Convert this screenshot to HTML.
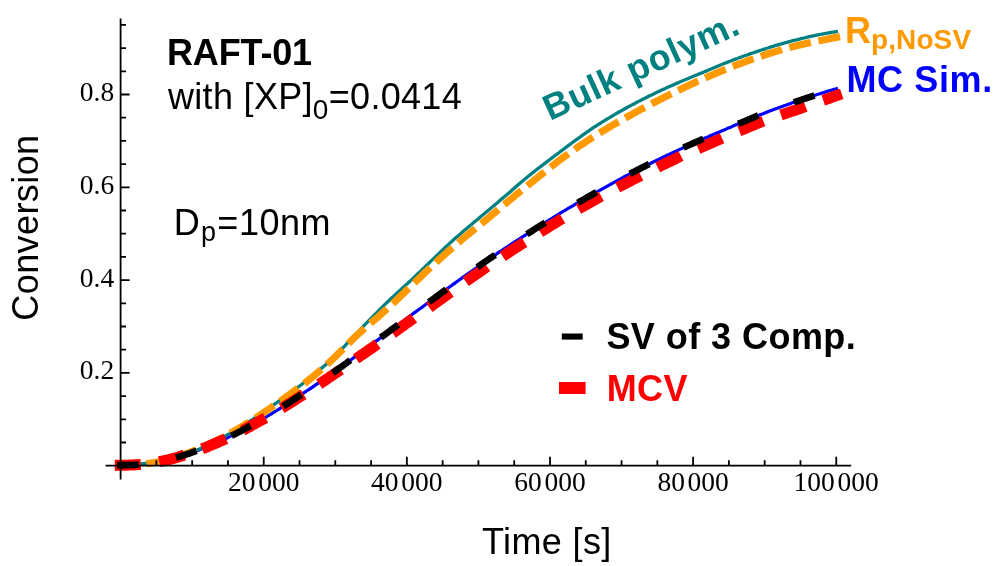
<!DOCTYPE html>
<html lang="en">
<head>
<meta charset="utf-8">
<title>RAFT-01 conversion vs. time</title>
<style>
html,body{margin:0;padding:0;background:#fff;}
body{width:1000px;height:566px;overflow:hidden;}
svg{display:block;will-change:transform;}
</style>
</head>
<body>
<svg width="1000" height="566" viewBox="0 0 1000 566">
<rect width="1000" height="566" fill="#fff"/>
<path d="M120.3,465.2 L122.1,465.2 L123.9,465.2 L125.7,465.2 L127.5,465.2 L129.3,465.1 L131.1,465.0 L132.9,464.9 L134.7,464.8 L136.5,464.7 L138.3,464.6 L140.1,464.4 L141.9,464.2 L143.7,464.0 L145.5,463.8 L147.3,463.6 L149.1,463.4 L150.9,463.1 L152.7,462.8 L154.5,462.5 L156.3,462.2 L158.1,461.9 L159.9,461.5 L161.7,461.2 L163.5,460.8 L165.3,460.4 L167.1,459.9 L168.9,459.5 L170.7,459.0 L172.5,458.6 L174.3,458.1 L176.1,457.6 L177.9,457.1 L179.7,456.5 L181.5,456.0 L183.3,455.4 L185.1,454.8 L186.9,454.2 L188.7,453.6 L190.5,453.0 L192.2,452.4 L194.0,451.7 L195.8,451.1 L197.6,450.4 L199.4,449.7 L201.2,449.0 L203.0,448.3 L204.8,447.6 L206.6,446.9 L208.4,446.1 L210.2,445.4 L212.0,444.6 L213.8,443.9 L215.6,443.1 L217.4,442.3 L219.2,441.5 L221.0,440.7 L222.8,439.8 L224.6,439.0 L226.4,438.2 L228.2,437.3 L230.0,436.4 L231.8,435.6 L233.6,434.7 L235.4,433.8 L237.2,432.9 L239.0,432.0 L240.8,431.0 L242.6,430.1 L244.4,429.2 L246.2,428.2 L248.0,427.2 L249.8,426.3 L251.6,425.3 L253.4,424.3 L255.2,423.3 L257.0,422.3 L258.8,421.3 L260.6,420.2 L262.4,419.2 L264.2,418.1 L266.0,417.1 L267.8,416.0 L269.6,414.9 L271.4,413.8 L273.2,412.7 L275.0,411.6 L276.8,410.5 L278.6,409.3 L280.4,408.2 L282.2,407.0 L284.0,405.9 L285.8,404.7 L287.6,403.6 L289.4,402.4 L291.2,401.2 L293.0,400.1 L294.8,398.9 L296.6,397.7 L298.4,396.5 L300.2,395.3 L302.0,394.1 L303.8,392.9 L305.6,391.7 L307.4,390.5 L309.2,389.3 L311.0,388.1 L312.8,386.9 L314.6,385.6 L316.4,384.4 L318.2,383.2 L320.0,381.9 L321.8,380.7 L323.6,379.4 L325.4,378.2 L327.2,376.9 L329.0,375.6 L330.8,374.3 L332.6,373.1 L334.4,371.8 L336.1,370.5 L337.9,369.2 L339.7,367.9 L341.5,366.6 L343.3,365.3 L345.1,364.0 L346.9,362.7 L348.7,361.4 L350.5,360.1 L352.3,358.8 L354.1,357.4 L355.9,356.1 L357.7,354.8 L359.5,353.5 L361.3,352.1 L363.1,350.8 L364.9,349.5 L366.7,348.1 L368.5,346.8 L370.3,345.5 L372.1,344.1 L373.9,342.8 L375.7,341.4 L377.5,340.1 L379.3,338.7 L381.1,337.4 L382.9,336.0 L384.7,334.7 L386.5,333.3 L388.3,332.0 L390.1,330.7 L391.9,329.3 L393.7,328.0 L395.5,326.7 L397.3,325.3 L399.1,324.0 L400.9,322.7 L402.7,321.4 L404.5,320.0 L406.3,318.7 L408.1,317.4 L409.9,316.1 L411.7,314.8 L413.5,313.4 L415.3,312.1 L417.1,310.8 L418.9,309.5 L420.7,308.2 L422.5,306.9 L424.3,305.5 L426.1,304.2 L427.9,302.9 L429.7,301.6 L431.5,300.3 L433.3,298.9 L435.1,297.6 L436.9,296.3 L438.7,295.0 L440.5,293.6 L442.3,292.3 L444.1,291.0 L445.9,289.7 L447.7,288.3 L449.5,287.0 L451.3,285.7 L453.1,284.4 L454.9,283.1 L456.7,281.8 L458.5,280.5 L460.3,279.2 L462.1,277.9 L463.9,276.6 L465.7,275.4 L467.5,274.1 L469.3,272.8 L471.1,271.5 L472.9,270.3 L474.7,269.0 L476.5,267.7 L478.3,266.5 L480.0,265.2 L481.8,264.0 L483.6,262.7 L485.4,261.5 L487.2,260.3 L489.0,259.0 L490.8,257.8 L492.6,256.6 L494.4,255.4 L496.2,254.2 L498.0,252.9 L499.8,251.7 L501.6,250.5 L503.4,249.3 L505.2,248.1 L507.0,247.0 L508.8,245.8 L510.6,244.6 L512.4,243.4 L514.2,242.2 L516.0,241.1 L517.8,239.9 L519.6,238.8 L521.4,237.6 L523.2,236.4 L525.0,235.3 L526.8,234.2 L528.6,233.0 L530.4,231.9 L532.2,230.8 L534.0,229.6 L535.8,228.5 L537.6,227.3 L539.4,226.2 L541.2,225.1 L543.0,223.9 L544.8,222.8 L546.6,221.7 L548.4,220.5 L550.2,219.4 L552.0,218.3 L553.8,217.2 L555.6,216.0 L557.4,214.9 L559.2,213.8 L561.0,212.7 L562.8,211.6 L564.6,210.6 L566.4,209.5 L568.2,208.4 L570.0,207.4 L571.8,206.3 L573.6,205.3 L575.4,204.2 L577.2,203.2 L579.0,202.1 L580.8,201.1 L582.6,200.1 L584.4,199.0 L586.2,198.0 L588.0,197.0 L589.8,196.0 L591.6,194.9 L593.4,193.9 L595.2,192.9 L597.0,191.9 L598.8,190.9 L600.6,189.9 L602.4,188.9 L604.2,187.9 L606.0,186.9 L607.8,185.9 L609.6,184.9 L611.4,183.9 L613.2,182.9 L615.0,181.9 L616.8,180.9 L618.6,179.9 L620.4,178.9 L622.2,178.0 L623.9,177.0 L625.7,176.0 L627.5,175.1 L629.3,174.2 L631.1,173.2 L632.9,172.3 L634.7,171.4 L636.5,170.4 L638.3,169.5 L640.1,168.6 L641.9,167.7 L643.7,166.8 L645.5,165.9 L647.3,165.0 L649.1,164.1 L650.9,163.2 L652.7,162.3 L654.5,161.4 L656.3,160.5 L658.1,159.6 L659.9,158.8 L661.7,157.9 L663.5,157.0 L665.3,156.2 L667.1,155.3 L668.9,154.5 L670.7,153.6 L672.5,152.8 L674.3,151.9 L676.1,151.1 L677.9,150.2 L679.7,149.4 L681.5,148.6 L683.3,147.7 L685.1,146.9 L686.9,146.1 L688.7,145.3 L690.5,144.5 L692.3,143.7 L694.1,142.9 L695.9,142.1 L697.7,141.3 L699.5,140.5 L701.3,139.7 L703.1,138.9 L704.9,138.1 L706.7,137.4 L708.5,136.6 L710.3,135.8 L712.1,135.0 L713.9,134.3 L715.7,133.5 L717.5,132.7 L719.3,132.0 L721.1,131.2 L722.9,130.4 L724.7,129.7 L726.5,128.9 L728.3,128.1 L730.1,127.4 L731.9,126.6 L733.7,125.8 L735.5,125.0 L737.3,124.3 L739.1,123.5 L740.9,122.7 L742.7,122.0 L744.5,121.2 L746.3,120.5 L748.1,119.7 L749.9,119.0 L751.7,118.2 L753.5,117.5 L755.3,116.7 L757.1,116.0 L758.9,115.3 L760.7,114.6 L762.5,113.9 L764.3,113.2 L766.1,112.5 L767.8,111.8 L769.6,111.1 L771.4,110.4 L773.2,109.7 L775.0,109.1 L776.8,108.4 L778.6,107.7 L780.4,107.1 L782.2,106.4 L784.0,105.8 L785.8,105.2 L787.6,104.5 L789.4,103.9 L791.2,103.3 L793.0,102.6 L794.8,102.0 L796.6,101.4 L798.4,100.8 L800.2,100.2 L802.0,99.6 L803.8,99.0 L805.6,98.4 L807.4,97.8 L809.2,97.2 L811.0,96.6 L812.8,96.0 L814.6,95.4 L816.4,94.8 L818.2,94.3 L820.0,93.7 L821.8,93.1 L823.6,92.6 L825.4,92.0 L827.2,91.4 L829.0,90.9 L830.8,90.4 L832.6,89.8 L834.4,89.3 L836.2,88.8 L838.0,88.2" fill="none" stroke="#0000ff" stroke-width="3.2"/>
<path d="M120.3,465.2 L122.1,465.2 L123.9,465.2 L125.7,465.1 L127.5,465.0 L129.3,464.9 L131.1,464.8 L132.9,464.7 L134.7,464.5 L136.5,464.4 L138.3,464.2 L140.1,464.0 L141.9,463.8 L143.7,463.6 L145.5,463.4 L147.3,463.2 L149.1,463.0 L150.9,462.7 L152.7,462.4 L154.5,462.1 L156.3,461.8 L158.1,461.5 L159.9,461.1 L161.7,460.8 L163.5,460.4 L165.3,460.0 L167.1,459.6 L168.9,459.2 L170.7,458.7 L172.5,458.3 L174.3,457.8 L176.1,457.3 L177.9,456.8 L179.7,456.2 L181.5,455.7 L183.3,455.1 L185.1,454.5 L186.9,453.9 L188.7,453.2 L190.5,452.6 L192.2,451.9 L194.0,451.2 L195.8,450.5 L197.6,449.7 L199.4,449.0 L201.2,448.2 L203.0,447.4 L204.8,446.6 L206.6,445.7 L208.4,444.9 L210.2,444.0 L212.0,443.1 L213.8,442.2 L215.6,441.3 L217.4,440.4 L219.2,439.4 L221.0,438.4 L222.8,437.5 L224.6,436.5 L226.4,435.5 L228.2,434.4 L230.0,433.4 L231.8,432.3 L233.6,431.3 L235.4,430.2 L237.2,429.1 L239.0,428.0 L240.8,426.9 L242.6,425.8 L244.4,424.6 L246.2,423.5 L248.0,422.3 L249.8,421.2 L251.6,420.0 L253.4,418.8 L255.2,417.6 L257.0,416.4 L258.8,415.2 L260.6,414.0 L262.4,412.7 L264.2,411.5 L266.0,410.3 L267.8,409.0 L269.6,407.7 L271.4,406.5 L273.2,405.2 L275.0,403.9 L276.8,402.6 L278.6,401.3 L280.4,400.0 L282.2,398.7 L284.0,397.4 L285.8,396.1 L287.6,394.8 L289.4,393.5 L291.2,392.2 L293.0,390.9 L294.8,389.6 L296.6,388.2 L298.4,386.9 L300.2,385.5 L302.0,384.2 L303.8,382.8 L305.6,381.4 L307.4,380.0 L309.2,378.6 L311.0,377.1 L312.8,375.7 L314.6,374.2 L316.4,372.7 L318.2,371.2 L320.0,369.7 L321.8,368.1 L323.6,366.5 L325.4,364.9 L327.2,363.3 L329.0,361.6 L330.8,360.0 L332.6,358.3 L334.4,356.5 L336.1,354.8 L337.9,353.0 L339.7,351.1 L341.5,349.3 L343.3,347.5 L345.1,345.6 L346.9,343.7 L348.7,341.8 L350.5,339.9 L352.3,338.0 L354.1,336.1 L355.9,334.2 L357.7,332.3 L359.5,330.4 L361.3,328.5 L363.1,326.6 L364.9,324.7 L366.7,322.8 L368.5,321.0 L370.3,319.1 L372.1,317.3 L373.9,315.5 L375.7,313.6 L377.5,311.8 L379.3,310.0 L381.1,308.2 L382.9,306.5 L384.7,304.7 L386.5,302.9 L388.3,301.2 L390.1,299.5 L391.9,297.8 L393.7,296.1 L395.5,294.4 L397.3,292.8 L399.1,291.1 L400.9,289.5 L402.7,287.8 L404.5,286.2 L406.3,284.6 L408.1,283.0 L409.9,281.3 L411.7,279.7 L413.5,278.0 L415.3,276.3 L417.1,274.5 L418.9,272.8 L420.7,271.1 L422.5,269.3 L424.3,267.6 L426.1,265.8 L427.9,264.1 L429.7,262.3 L431.5,260.6 L433.3,258.9 L435.1,257.1 L436.9,255.4 L438.7,253.7 L440.5,251.9 L442.3,250.2 L444.1,248.5 L445.9,246.8 L447.7,245.2 L449.5,243.5 L451.3,241.9 L453.1,240.2 L454.9,238.6 L456.7,237.0 L458.5,235.4 L460.3,233.9 L462.1,232.3 L463.9,230.8 L465.7,229.2 L467.5,227.7 L469.3,226.2 L471.1,224.7 L472.9,223.2 L474.7,221.6 L476.5,220.2 L478.3,218.7 L480.0,217.2 L481.8,215.7 L483.6,214.2 L485.4,212.7 L487.2,211.2 L489.0,209.7 L490.8,208.2 L492.6,206.7 L494.4,205.2 L496.2,203.7 L498.0,202.2 L499.8,200.6 L501.6,199.1 L503.4,197.6 L505.2,196.0 L507.0,194.5 L508.8,192.9 L510.6,191.4 L512.4,189.8 L514.2,188.2 L516.0,186.7 L517.8,185.1 L519.6,183.6 L521.4,182.1 L523.2,180.5 L525.0,179.0 L526.8,177.5 L528.6,176.0 L530.4,174.6 L532.2,173.1 L534.0,171.7 L535.8,170.3 L537.6,168.9 L539.4,167.5 L541.2,166.1 L543.0,164.8 L544.8,163.4 L546.6,162.0 L548.4,160.6 L550.2,159.3 L552.0,157.9 L553.8,156.5 L555.6,155.2 L557.4,153.8 L559.2,152.5 L561.0,151.1 L562.8,149.7 L564.6,148.4 L566.4,147.0 L568.2,145.7 L570.0,144.4 L571.8,143.0 L573.6,141.7 L575.4,140.4 L577.2,139.1 L579.0,137.8 L580.8,136.5 L582.6,135.2 L584.4,133.9 L586.2,132.7 L588.0,131.4 L589.8,130.2 L591.6,128.9 L593.4,127.7 L595.2,126.5 L597.0,125.4 L598.8,124.2 L600.6,123.1 L602.4,121.9 L604.2,120.8 L606.0,119.7 L607.8,118.6 L609.6,117.6 L611.4,116.5 L613.2,115.4 L615.0,114.4 L616.8,113.3 L618.6,112.3 L620.4,111.3 L622.2,110.3 L623.9,109.3 L625.7,108.3 L627.5,107.3 L629.3,106.3 L631.1,105.4 L632.9,104.4 L634.7,103.5 L636.5,102.5 L638.3,101.6 L640.1,100.7 L641.9,99.7 L643.7,98.8 L645.5,97.9 L647.3,97.0 L649.1,96.1 L650.9,95.2 L652.7,94.4 L654.5,93.5 L656.3,92.6 L658.1,91.8 L659.9,90.9 L661.7,90.1 L663.5,89.3 L665.3,88.5 L667.1,87.6 L668.9,86.8 L670.7,86.0 L672.5,85.2 L674.3,84.4 L676.1,83.6 L677.9,82.9 L679.7,82.1 L681.5,81.3 L683.3,80.5 L685.1,79.8 L686.9,79.0 L688.7,78.3 L690.5,77.5 L692.3,76.8 L694.1,76.0 L695.9,75.3 L697.7,74.6 L699.5,73.8 L701.3,73.1 L703.1,72.4 L704.9,71.6 L706.7,70.9 L708.5,70.1 L710.3,69.3 L712.1,68.6 L713.9,67.8 L715.7,67.1 L717.5,66.3 L719.3,65.5 L721.1,64.8 L722.9,64.1 L724.7,63.3 L726.5,62.6 L728.3,61.9 L730.1,61.2 L731.9,60.5 L733.7,59.8 L735.5,59.1 L737.3,58.5 L739.1,57.8 L740.9,57.1 L742.7,56.5 L744.5,55.8 L746.3,55.2 L748.1,54.6 L749.9,53.9 L751.7,53.3 L753.5,52.7 L755.3,52.1 L757.1,51.5 L758.9,50.9 L760.7,50.3 L762.5,49.7 L764.3,49.1 L766.1,48.5 L767.8,48.0 L769.6,47.4 L771.4,46.8 L773.2,46.3 L775.0,45.7 L776.8,45.2 L778.6,44.7 L780.4,44.2 L782.2,43.6 L784.0,43.1 L785.8,42.6 L787.6,42.1 L789.4,41.6 L791.2,41.2 L793.0,40.7 L794.8,40.2 L796.6,39.8 L798.4,39.3 L800.2,38.9 L802.0,38.4 L803.8,38.0 L805.6,37.6 L807.4,37.1 L809.2,36.7 L811.0,36.3 L812.8,36.0 L814.6,35.6 L816.4,35.2 L818.2,34.8 L820.0,34.5 L821.8,34.1 L823.6,33.8 L825.4,33.5 L827.2,33.1 L829.0,32.8 L830.8,32.5 L832.6,32.2 L834.4,32.0 L836.2,31.7 L838.0,31.4" fill="none" stroke="#008080" stroke-width="3.3"/>
<path d="M120.3,464.9 L122.1,465.0 L123.9,465.0 L125.7,465.1 L127.5,465.1 L129.3,465.0 L131.1,465.0 L132.9,464.9 L134.7,464.9 L136.5,464.8 L138.2,464.6 L140.0,464.5 L141.8,464.3 L143.6,464.1 L145.4,463.9 L147.2,463.7 L149.0,463.4 L150.8,463.1 L152.6,462.8 L154.4,462.5 L156.2,462.2 L158.0,461.8 L159.8,461.4 L161.6,461.0 L163.4,460.6 L165.2,460.2 L167.0,459.7 L168.8,459.3 L170.6,458.8 L172.4,458.3 L174.1,457.7 L175.9,457.2 L177.7,456.6 L179.5,456.1 L181.3,455.5 L183.1,454.8 L184.9,454.2 L186.7,453.6 L188.5,452.9 L190.3,452.2 L192.1,451.5 L193.9,450.8 L195.7,450.1 L197.5,449.3 L199.3,448.6 L201.1,447.8 L202.9,447.0 L204.7,446.2 L206.5,445.4 L208.3,444.6 L210.0,443.7 L211.8,442.9 L213.6,442.0 L215.4,441.1 L217.2,440.2 L219.0,439.3 L220.8,438.4 L222.6,437.4 L224.4,436.5 L226.2,435.5 L228.0,434.5 L229.8,433.5 L231.6,432.5 L233.4,431.5 L235.2,430.4 L237.0,429.4 L238.8,428.3 L240.6,427.3 L242.4,426.2 L244.2,425.1 L245.9,424.0 L247.7,422.9 L249.5,421.8 L251.3,420.7 L253.1,419.5 L254.9,418.4 L256.7,417.2 L258.5,416.1 L260.3,414.9 L262.1,413.7 L263.9,412.5 L265.7,411.3 L267.5,410.1 L269.3,408.9 L271.1,407.6 L272.9,406.4 L274.7,405.1 L276.5,403.9 L278.3,402.6 L280.1,401.3 L281.8,400.1 L283.6,398.8 L285.4,397.5 L287.2,396.2 L289.0,394.9 L290.8,393.6 L292.6,392.2 L294.4,390.9 L296.2,389.6 L298.0,388.2 L299.8,386.9 L301.6,385.5 L303.4,384.1 L305.2,382.8 L307.0,381.4 L308.8,379.9 L310.6,378.5 L312.4,377.1 L314.2,375.6 L316.0,374.1 L317.7,372.6 L319.5,371.1 L321.3,369.5 L323.1,368.0 L324.9,366.4 L326.7,364.8 L328.5,363.1 L330.3,361.4 L332.1,359.8 L333.9,358.0 L335.7,356.3 L337.5,354.5 L339.3,352.7 L341.1,350.9 L342.9,349.1 L344.7,347.3 L346.5,345.5 L348.3,343.7 L350.1,341.9 L351.9,340.1 L353.6,338.4 L355.4,336.7 L357.2,335.0 L359.0,333.4 L360.8,331.8 L362.6,330.2 L364.4,328.6 L366.2,327.0 L368.0,325.5 L369.8,323.9 L371.6,322.4 L373.4,320.8 L375.2,319.3 L377.0,317.7 L378.8,316.2 L380.6,314.6 L382.4,313.0 L384.2,311.4 L386.0,309.8 L387.8,308.2 L389.5,306.5 L391.3,304.9 L393.1,303.2 L394.9,301.5 L396.7,299.8 L398.5,298.1 L400.3,296.4 L402.1,294.7 L403.9,293.0 L405.7,291.2 L407.5,289.5 L409.3,287.8 L411.1,286.0 L412.9,284.3 L414.7,282.5 L416.5,280.8 L418.3,279.1 L420.1,277.3 L421.9,275.6 L423.7,273.9 L425.4,272.2 L427.2,270.5 L429.0,268.8 L430.8,267.1 L432.6,265.4 L434.4,263.8 L436.2,262.1 L438.0,260.5 L439.8,258.8 L441.6,257.2 L443.4,255.6 L445.2,254.0 L447.0,252.4 L448.8,250.8 L450.6,249.3 L452.4,247.7 L454.2,246.2 L456.0,244.7 L457.8,243.1 L459.6,241.6 L461.3,240.1 L463.1,238.6 L464.9,237.1 L466.7,235.6 L468.5,234.1 L470.3,232.7 L472.1,231.2 L473.9,229.7 L475.7,228.2 L477.5,226.8 L479.3,225.3 L481.1,223.8 L482.9,222.3 L484.7,220.9 L486.5,219.4 L488.3,217.9 L490.1,216.4 L491.9,214.9 L493.7,213.5 L495.5,212.0 L497.2,210.5 L499.0,209.0 L500.8,207.5 L502.6,206.0 L504.4,204.5 L506.2,203.0 L508.0,201.5 L509.8,200.0 L511.6,198.5 L513.4,197.1 L515.2,195.6 L517.0,194.1 L518.8,192.7 L520.6,191.2 L522.4,189.8 L524.2,188.3 L526.0,186.9 L527.8,185.5 L529.6,184.0 L531.4,182.6 L533.1,181.1 L534.9,179.7 L536.7,178.2 L538.5,176.8 L540.3,175.3 L542.1,173.9 L543.9,172.4 L545.7,171.0 L547.5,169.6 L549.3,168.2 L551.1,166.8 L552.9,165.4 L554.7,164.0 L556.5,162.6 L558.3,161.2 L560.1,159.9 L561.9,158.5 L563.7,157.2 L565.5,155.9 L567.3,154.6 L569.0,153.3 L570.8,152.0 L572.6,150.8 L574.4,149.5 L576.2,148.3 L578.0,147.0 L579.8,145.8 L581.6,144.6 L583.4,143.4 L585.2,142.2 L587.0,141.0 L588.8,139.9 L590.6,138.7 L592.4,137.6 L594.2,136.4 L596.0,135.3 L597.8,134.2 L599.6,133.1 L601.4,131.9 L603.2,130.9 L604.9,129.8 L606.7,128.7 L608.5,127.6 L610.3,126.5 L612.1,125.5 L613.9,124.4 L615.7,123.4 L617.5,122.4 L619.3,121.3 L621.1,120.3 L622.9,119.3 L624.7,118.3 L626.5,117.3 L628.3,116.3 L630.1,115.3 L631.9,114.3 L633.7,113.3 L635.5,112.3 L637.3,111.4 L639.1,110.4 L640.8,109.4 L642.6,108.5 L644.4,107.5 L646.2,106.6 L648.0,105.7 L649.8,104.7 L651.6,103.8 L653.4,102.9 L655.2,102.0 L657.0,101.0 L658.8,100.1 L660.6,99.2 L662.4,98.3 L664.2,97.4 L666.0,96.5 L667.8,95.6 L669.6,94.7 L671.4,93.8 L673.2,92.9 L675.0,92.0 L676.7,91.1 L678.5,90.3 L680.3,89.4 L682.1,88.5 L683.9,87.7 L685.7,86.8 L687.5,86.0 L689.3,85.1 L691.1,84.3 L692.9,83.4 L694.7,82.6 L696.5,81.8 L698.3,81.0 L700.1,80.2 L701.9,79.4 L703.7,78.6 L705.5,77.8 L707.3,77.0 L709.1,76.2 L710.9,75.5 L712.6,74.7 L714.4,73.9 L716.2,73.2 L718.0,72.4 L719.8,71.7 L721.6,70.9 L723.4,70.2 L725.2,69.5 L727.0,68.8 L728.8,68.0 L730.6,67.3 L732.4,66.6 L734.2,65.9 L736.0,65.2 L737.8,64.5 L739.6,63.9 L741.4,63.2 L743.2,62.5 L745.0,61.8 L746.8,61.2 L748.5,60.5 L750.3,59.9 L752.1,59.3 L753.9,58.6 L755.7,58.0 L757.5,57.4 L759.3,56.8 L761.1,56.2 L762.9,55.6 L764.7,55.0 L766.5,54.4 L768.3,53.8 L770.1,53.3 L771.9,52.7 L773.7,52.1 L775.5,51.6 L777.3,51.1 L779.1,50.5 L780.9,50.0 L782.7,49.5 L784.4,49.0 L786.2,48.5 L788.0,48.0 L789.8,47.5 L791.6,47.0 L793.4,46.6 L795.2,46.1 L797.0,45.6 L798.8,45.2 L800.6,44.8 L802.4,44.3 L804.2,43.9 L806.0,43.5 L807.8,43.1 L809.6,42.7 L811.4,42.3 L813.2,42.0 L815.0,41.6 L816.8,41.2 L818.6,40.9 L820.3,40.5 L822.1,40.2 L823.9,39.8 L825.7,39.5 L827.5,39.1 L829.3,38.7 L831.1,38.4 L832.9,38.0 L834.7,37.6 L836.5,37.3" fill="none" stroke="#ff9900" stroke-width="7.2" stroke-linecap="square" stroke-dasharray="15.0 14.83"/>
<path d="M120.3,465.2 L122.1,465.2 L123.9,465.2 L125.7,465.2 L127.5,465.2 L129.3,465.1 L131.1,465.0 L132.9,465.0 L134.7,464.8 L136.5,464.7 L138.2,464.6 L140.0,464.4 L141.8,464.3 L143.6,464.1 L145.4,463.9 L147.2,463.6 L149.0,463.4 L150.8,463.1 L152.6,462.9 L154.4,462.6 L156.2,462.2 L158.0,461.9 L159.8,461.6 L161.6,461.2 L163.4,460.8 L165.2,460.4 L167.0,460.0 L168.8,459.6 L170.6,459.1 L172.4,458.7 L174.1,458.2 L175.9,457.7 L177.7,457.2 L179.5,456.6 L181.3,456.1 L183.1,455.5 L184.9,455.0 L186.7,454.4 L188.5,453.8 L190.3,453.2 L192.1,452.5 L193.9,451.9 L195.7,451.3 L197.5,450.6 L199.3,449.9 L201.1,449.2 L202.9,448.5 L204.7,447.8 L206.5,447.1 L208.3,446.4 L210.0,445.6 L211.8,444.9 L213.6,444.1 L215.4,443.4 L217.2,442.6 L219.0,441.8 L220.8,441.0 L222.6,440.2 L224.4,439.3 L226.2,438.5 L228.0,437.7 L229.8,436.8 L231.6,436.0 L233.4,435.1 L235.2,434.2 L237.0,433.3 L238.8,432.4 L240.6,431.5 L242.4,430.6 L244.2,429.6 L245.9,428.7 L247.7,427.7 L249.5,426.8 L251.3,425.8 L253.1,424.8 L254.9,423.8 L256.7,422.8 L258.5,421.8 L260.3,420.8 L262.1,419.8 L263.9,418.8 L265.7,417.8 L267.5,416.7 L269.3,415.7 L271.1,414.6 L272.9,413.6 L274.7,412.5 L276.5,411.4 L278.3,410.3 L280.1,409.2 L281.8,408.2 L283.6,407.1 L285.4,405.9 L287.2,404.8 L289.0,403.7 L290.8,402.6 L292.6,401.5 L294.4,400.3 L296.2,399.2 L298.0,398.0 L299.8,396.9 L301.6,395.8 L303.4,394.6 L305.2,393.4 L307.0,392.3 L308.8,391.1 L310.6,389.9 L312.4,388.8 L314.2,387.6 L316.0,386.4 L317.7,385.2 L319.5,384.0 L321.3,382.8 L323.1,381.6 L324.9,380.4 L326.7,379.2 L328.5,377.9 L330.3,376.7 L332.1,375.5 L333.9,374.2 L335.7,373.0 L337.5,371.8 L339.3,370.5 L341.1,369.3 L342.9,368.0 L344.7,366.8 L346.5,365.5 L348.3,364.3 L350.1,363.0 L351.9,361.8 L353.6,360.5 L355.4,359.3 L357.2,358.0 L359.0,356.8 L360.8,355.5 L362.6,354.3 L364.4,353.1 L366.2,351.9 L368.0,350.6 L369.8,349.4 L371.6,348.2 L373.4,346.9 L375.2,345.7 L377.0,344.4 L378.8,343.2 L380.6,341.9 L382.4,340.6 L384.2,339.3 L386.0,338.0 L387.8,336.7 L389.5,335.4 L391.3,334.2 L393.1,332.9 L394.9,331.6 L396.7,330.3 L398.5,329.0 L400.3,327.7 L402.1,326.5 L403.9,325.2 L405.7,323.9 L407.5,322.6 L409.3,321.4 L411.1,320.1 L412.9,318.9 L414.7,317.6 L416.5,316.4 L418.3,315.1 L420.1,313.9 L421.9,312.6 L423.7,311.4 L425.4,310.1 L427.2,308.9 L429.0,307.6 L430.8,306.4 L432.6,305.1 L434.4,303.8 L436.2,302.5 L438.0,301.2 L439.8,299.9 L441.6,298.7 L443.4,297.4 L445.2,296.1 L447.0,294.8 L448.8,293.5 L450.6,292.2 L452.4,290.9 L454.2,289.7 L456.0,288.4 L457.8,287.1 L459.6,285.9 L461.3,284.6 L463.1,283.3 L464.9,282.1 L466.7,280.8 L468.5,279.6 L470.3,278.3 L472.1,277.1 L473.9,275.8 L475.7,274.6 L477.5,273.3 L479.3,272.1 L481.1,270.9 L482.9,269.6 L484.7,268.4 L486.5,267.2 L488.3,266.0 L490.1,264.7 L491.9,263.5 L493.7,262.3 L495.5,261.1 L497.2,259.9 L499.0,258.7 L500.8,257.5 L502.6,256.3 L504.4,255.1 L506.2,254.0 L508.0,252.8 L509.8,251.6 L511.6,250.4 L513.4,249.3 L515.2,248.1 L517.0,247.0 L518.8,245.8 L520.6,244.7 L522.4,243.5 L524.2,242.4 L526.0,241.2 L527.8,240.1 L529.6,239.0 L531.4,237.9 L533.1,236.7 L534.9,235.6 L536.7,234.5 L538.5,233.3 L540.3,232.2 L542.1,231.1 L543.9,229.9 L545.7,228.8 L547.5,227.7 L549.3,226.5 L551.1,225.4 L552.9,224.3 L554.7,223.2 L556.5,222.1 L558.3,221.0 L560.1,219.9 L561.9,218.8 L563.7,217.7 L565.5,216.7 L567.3,215.6 L569.0,214.5 L570.8,213.5 L572.6,212.4 L574.4,211.4 L576.2,210.4 L578.0,209.3 L579.8,208.3 L581.6,207.3 L583.4,206.3 L585.2,205.3 L587.0,204.2 L588.8,203.2 L590.6,202.2 L592.4,201.2 L594.2,200.2 L596.0,199.2 L597.8,198.2 L599.6,197.2 L601.4,196.3 L603.2,195.3 L604.9,194.3 L606.7,193.4 L608.5,192.4 L610.3,191.5 L612.1,190.5 L613.9,189.5 L615.7,188.6 L617.5,187.6 L619.3,186.7 L621.1,185.7 L622.9,184.8 L624.7,183.9 L626.5,182.9 L628.3,182.0 L630.1,181.1 L631.9,180.1 L633.7,179.2 L635.5,178.3 L637.3,177.4 L639.1,176.5 L640.8,175.6 L642.6,174.7 L644.4,173.8 L646.2,172.9 L648.0,172.0 L649.8,171.1 L651.6,170.2 L653.4,169.4 L655.2,168.5 L657.0,167.6 L658.8,166.7 L660.6,165.9 L662.4,165.0 L664.2,164.1 L666.0,163.3 L667.8,162.4 L669.6,161.6 L671.4,160.8 L673.2,159.9 L675.0,159.1 L676.7,158.2 L678.5,157.4 L680.3,156.6 L682.1,155.7 L683.9,154.9 L685.7,154.1 L687.5,153.3 L689.3,152.5 L691.1,151.7 L692.9,150.9 L694.7,150.1 L696.5,149.3 L698.3,148.5 L700.1,147.7 L701.9,147.0 L703.7,146.2 L705.5,145.4 L707.3,144.6 L709.1,143.9 L710.9,143.1 L712.6,142.3 L714.4,141.6 L716.2,140.8 L718.0,140.0 L719.8,139.3 L721.6,138.5 L723.4,137.7 L725.2,137.0 L727.0,136.2 L728.8,135.4 L730.6,134.7 L732.4,133.9 L734.2,133.1 L736.0,132.4 L737.8,131.6 L739.6,130.8 L741.4,130.1 L743.2,129.3 L745.0,128.6 L746.8,127.8 L748.5,127.1 L750.3,126.3 L752.1,125.6 L753.9,124.9 L755.7,124.1 L757.5,123.4 L759.3,122.7 L761.1,122.0 L762.9,121.3 L764.7,120.6 L766.5,120.0 L768.3,119.3 L770.1,118.7 L771.9,118.1 L773.7,117.4 L775.5,116.8 L777.3,116.2 L779.1,115.6 L780.9,115.0 L782.7,114.4 L784.4,113.8 L786.2,113.2 L788.0,112.6 L789.8,112.0 L791.6,111.4 L793.4,110.8 L795.2,110.2 L797.0,109.6 L798.8,109.0 L800.6,108.3 L802.4,107.7 L804.2,107.1 L806.0,106.4 L807.8,105.8 L809.6,105.2 L811.4,104.5 L813.2,103.9 L815.0,103.3 L816.8,102.6 L818.6,102.0 L820.3,101.4 L822.1,100.7 L823.9,100.1 L825.7,99.5 L827.5,98.8 L829.3,98.2 L831.1,97.5 L832.9,96.9 L834.7,96.2 L836.5,95.6" fill="none" stroke="#ff0000" stroke-width="11.0" stroke-linecap="square" stroke-dasharray="15.0 29.72"/>
<path d="M120.3,465.2 L122.1,465.2 L123.9,465.2 L125.7,465.2 L127.5,465.2 L129.3,465.1 L131.1,465.0 L132.9,464.9 L134.7,464.8 L136.5,464.7 L138.2,464.6 L140.0,464.4 L141.8,464.2 L143.6,464.1 L145.4,463.8 L147.2,463.6 L149.0,463.4 L150.8,463.1 L152.6,462.8 L154.4,462.5 L156.2,462.2 L158.0,461.9 L159.8,461.5 L161.6,461.2 L163.4,460.8 L165.2,460.4 L167.0,460.0 L168.8,459.5 L170.6,459.1 L172.4,458.6 L174.1,458.1 L175.9,457.6 L177.7,457.1 L179.5,456.6 L181.3,456.0 L183.1,455.5 L184.9,454.9 L186.7,454.3 L188.5,453.7 L190.3,453.1 L192.1,452.4 L193.9,451.8 L195.7,451.1 L197.5,450.5 L199.3,449.8 L201.1,449.1 L202.9,448.4 L204.7,447.7 L206.5,447.0 L208.3,446.2 L210.0,445.5 L211.8,444.7 L213.6,443.9 L215.4,443.2 L217.2,442.4 L219.0,441.6 L220.8,440.8 L222.6,439.9 L224.4,439.1 L226.2,438.3 L228.0,437.4 L229.8,436.6 L231.6,435.7 L233.4,434.8 L235.2,433.9 L237.0,433.0 L238.8,432.1 L240.6,431.2 L242.4,430.2 L244.2,429.3 L245.9,428.4 L247.7,427.4 L249.5,426.4 L251.3,425.4 L253.1,424.4 L254.9,423.4 L256.7,422.4 L258.5,421.4 L260.3,420.4 L262.1,419.4 L263.9,418.3 L265.7,417.2 L267.5,416.2 L269.3,415.1 L271.1,414.0 L272.9,412.9 L274.7,411.8 L276.5,410.7 L278.3,409.5 L280.1,408.4 L281.8,407.3 L283.6,406.1 L285.4,405.0 L287.2,403.8 L289.0,402.6 L290.8,401.5 L292.6,400.3 L294.4,399.1 L296.2,397.9 L298.0,396.8 L299.8,395.6 L301.6,394.4 L303.4,393.2 L305.2,392.0 L307.0,390.8 L308.8,389.6 L310.6,388.4 L312.4,387.1 L314.2,385.9 L316.0,384.7 L317.7,383.5 L319.5,382.2 L321.3,381.0 L323.1,379.7 L324.9,378.5 L326.7,377.2 L328.5,375.9 L330.3,374.7 L332.1,373.4 L333.9,372.1 L335.7,370.8 L337.5,369.5 L339.3,368.2 L341.1,367.0 L342.9,365.7 L344.7,364.4 L346.5,363.1 L348.3,361.7 L350.1,360.4 L351.9,359.1 L353.6,357.8 L355.4,356.5 L357.2,355.2 L359.0,353.8 L360.8,352.5 L362.6,351.2 L364.4,349.8 L366.2,348.5 L368.0,347.2 L369.8,345.8 L371.6,344.5 L373.4,343.2 L375.2,341.8 L377.0,340.5 L378.8,339.1 L380.6,337.8 L382.4,336.4 L384.2,335.1 L386.0,333.8 L387.8,332.4 L389.5,331.1 L391.3,329.7 L393.1,328.4 L394.9,327.1 L396.7,325.8 L398.5,324.4 L400.3,323.1 L402.1,321.8 L403.9,320.5 L405.7,319.2 L407.5,317.8 L409.3,316.5 L411.1,315.2 L412.9,313.9 L414.7,312.6 L416.5,311.3 L418.3,309.9 L420.1,308.6 L421.9,307.3 L423.7,306.0 L425.4,304.7 L427.2,303.4 L429.0,302.1 L430.8,300.7 L432.6,299.4 L434.4,298.1 L436.2,296.8 L438.0,295.5 L439.8,294.1 L441.6,292.8 L443.4,291.5 L445.2,290.2 L447.0,288.9 L448.8,287.5 L450.6,286.2 L452.4,284.9 L454.2,283.6 L456.0,282.3 L457.8,281.0 L459.6,279.7 L461.3,278.4 L463.1,277.2 L464.9,275.9 L466.7,274.6 L468.5,273.3 L470.3,272.1 L472.1,270.8 L473.9,269.5 L475.7,268.3 L477.5,267.0 L479.3,265.8 L481.1,264.5 L482.9,263.3 L484.7,262.0 L486.5,260.8 L488.3,259.6 L490.1,258.3 L491.9,257.1 L493.7,255.9 L495.5,254.7 L497.2,253.5 L499.0,252.3 L500.8,251.1 L502.6,249.9 L504.4,248.7 L506.2,247.5 L508.0,246.3 L509.8,245.1 L511.6,244.0 L513.4,242.8 L515.2,241.6 L517.0,240.4 L518.8,239.3 L520.6,238.1 L522.4,237.0 L524.2,235.8 L526.0,234.7 L527.8,233.6 L529.6,232.4 L531.4,231.3 L533.1,230.2 L534.9,229.0 L536.7,227.9 L538.5,226.8 L540.3,225.6 L542.1,224.5 L543.9,223.4 L545.7,222.2 L547.5,221.1 L549.3,220.0 L551.1,218.8 L552.9,217.7 L554.7,216.6 L556.5,215.5 L558.3,214.4 L560.1,213.3 L561.9,212.2 L563.7,211.1 L565.5,210.0 L567.3,209.0 L569.0,207.9 L570.8,206.9 L572.6,205.8 L574.4,204.8 L576.2,203.7 L578.0,202.7 L579.8,201.7 L581.6,200.6 L583.4,199.6 L585.2,198.6 L587.0,197.5 L588.8,196.5 L590.6,195.5 L592.4,194.5 L594.2,193.5 L596.0,192.5 L597.8,191.5 L599.6,190.4 L601.4,189.4 L603.2,188.4 L604.9,187.4 L606.7,186.4 L608.5,185.4 L610.3,184.4 L612.1,183.5 L613.9,182.5 L615.7,181.5 L617.5,180.5 L619.3,179.5 L621.1,178.5 L622.9,177.6 L624.7,176.6 L626.5,175.7 L628.3,174.7 L630.1,173.8 L631.9,172.8 L633.7,171.9 L635.5,171.0 L637.3,170.1 L639.1,169.2 L640.8,168.2 L642.6,167.3 L644.4,166.4 L646.2,165.5 L648.0,164.6 L649.8,163.7 L651.6,162.8 L653.4,162.0 L655.2,161.1 L657.0,160.2 L658.8,159.3 L660.6,158.5 L662.4,157.6 L664.2,156.7 L666.0,155.9 L667.8,155.0 L669.6,154.2 L671.4,153.3 L673.2,152.5 L675.0,151.6 L676.7,150.8 L678.5,149.9 L680.3,149.1 L682.1,148.3 L683.9,147.4 L685.7,146.6 L687.5,145.8 L689.3,145.0 L691.1,144.2 L692.9,143.4 L694.7,142.6 L696.5,141.8 L698.3,141.0 L700.1,140.2 L701.9,139.4 L703.7,138.7 L705.5,137.9 L707.3,137.1 L709.1,136.3 L710.9,135.6 L712.6,134.8 L714.4,134.0 L716.2,133.3 L718.0,132.5 L719.8,131.7 L721.6,131.0 L723.4,130.2 L725.2,129.4 L727.0,128.7 L728.8,127.9 L730.6,127.1 L732.4,126.4 L734.2,125.6 L736.0,124.8 L737.8,124.1 L739.6,123.3 L741.4,122.5 L743.2,121.8 L745.0,121.0 L746.8,120.3 L748.5,119.5 L750.3,118.8 L752.1,118.0 L753.9,117.3 L755.7,116.5 L757.5,115.8 L759.3,115.1 L761.1,114.4 L762.9,113.7 L764.7,113.0 L766.5,112.3 L768.3,111.6 L770.1,110.9 L771.9,110.2 L773.7,109.6 L775.5,108.9 L777.3,108.2 L779.1,107.6 L780.9,106.9 L782.7,106.3 L784.4,105.7 L786.2,105.0 L788.0,104.4 L789.8,103.8 L791.6,103.1 L793.4,102.5 L795.2,101.9 L797.0,101.3 L798.8,100.7 L800.6,100.1 L802.4,99.5 L804.2,98.9 L806.0,98.3 L807.8,97.7 L809.6,97.1 L811.4,96.5 L813.2,95.9 L815.0,95.3 L816.8,94.7 L818.6,94.2 L820.3,93.6 L822.1,93.0 L823.9,92.5 L825.7,91.9 L827.5,91.3 L829.3,90.8 L831.1,90.3 L832.9,89.7 L834.7,89.2 L836.5,88.7" fill="none" stroke="#000" stroke-width="6.7" stroke-linecap="square" stroke-dasharray="15.0 44.70"/>
<g stroke="#000" stroke-width="1.8" fill="none">
<path d="M105.6,465.7 H851.2"/>
<path d="M120.6,18.6 V479.6"/>
<path d="M156.38,465.7 v-5.4 M192.16,465.7 v-5.4 M227.95,465.7 v-5.4 M263.73,465.7 v-9.0 M299.51,465.7 v-5.4 M335.29,465.7 v-5.4 M371.08,465.7 v-5.4 M406.86,465.7 v-9.0 M442.64,465.7 v-5.4 M478.42,465.7 v-5.4 M514.21,465.7 v-5.4 M549.99,465.7 v-9.0 M585.77,465.7 v-5.4 M621.55,465.7 v-5.4 M657.34,465.7 v-5.4 M693.12,465.7 v-9.0 M728.90,465.7 v-5.4 M764.68,465.7 v-5.4 M800.47,465.7 v-5.4 M836.25,465.7 v-9.0 M120.6,442.50 h5.4 M120.6,419.30 h5.4 M120.6,396.10 h5.4 M120.6,372.90 h9.0 M120.6,349.70 h5.4 M120.6,326.50 h5.4 M120.6,303.30 h5.4 M120.6,280.10 h9.0 M120.6,256.90 h5.4 M120.6,233.70 h5.4 M120.6,210.50 h5.4 M120.6,187.30 h9.0 M120.6,164.10 h5.4 M120.6,140.90 h5.4 M120.6,117.70 h5.4 M120.6,94.50 h9.0 M120.6,71.30 h5.4 M120.6,48.10 h5.4 M120.6,24.90 h5.4"/>
</g>
<g font-family="'Liberation Serif', 'DejaVu Serif', serif" font-size="27.5" fill="#000">
<text x="114.2" y="379.3" text-anchor="end">0.2</text>
<text x="114.2" y="286.5" text-anchor="end">0.4</text>
<text x="114.2" y="193.7" text-anchor="end">0.6</text>
<text x="114.2" y="100.9" text-anchor="end">0.8</text>
<text x="228.0" y="491.4">20<tspan dx="2.7">000</tspan></text>
<text x="371.1" y="491.4">40<tspan dx="2.7">000</tspan></text>
<text x="514.3" y="491.4">60<tspan dx="2.7">000</tspan></text>
<text x="657.4" y="491.4">80<tspan dx="2.7">000</tspan></text>
<text x="793.6" y="491.4">100<tspan dx="2.7">000</tspan></text>
</g>
<g font-family="'Liberation Sans', Arial, sans-serif" font-size="36">
<text x="167" y="65.2" font-weight="bold" letter-spacing="-0.15">RAFT-01</text>
<text x="168" y="109" letter-spacing="0.31">with [XP]<tspan font-size="28" dy="10">0</tspan><tspan dy="-10">=0.0414</tspan></text>
<text x="173.8" y="235" letter-spacing="0.55">D<tspan font-size="27" dy="6.2" dx="0.6">p</tspan><tspan dy="-6.2" dx="0.8">=10nm</tspan></text>
<text transform="translate(37.5,227.6) rotate(-90)" text-anchor="middle" letter-spacing="0.41">Conversion</text>
<text x="482" y="554" letter-spacing="0.37">Time [s]</text>
<text transform="translate(550,121) rotate(-24.6)" font-weight="bold" fill="#008080" letter-spacing="0.67">Bulk polym.</text>
<text x="845" y="42.6" font-weight="bold" fill="#ff9900">R<tspan font-size="28" dy="6" letter-spacing="0.1">p,NoSV</tspan></text>
<text x="846.5" y="92" font-weight="bold" fill="#0000ff" letter-spacing="0.62">MC Sim.</text>
<text x="606.4" y="349" font-weight="bold" fill="#000" letter-spacing="0.45">SV of 3 Comp.</text>
<text x="606.7" y="401" font-weight="bold" fill="#ff0000" letter-spacing="0.4">MCV</text>
</g>
<rect x="561.8" y="333.5" width="20.9" height="6.1" fill="#000"/>
<rect x="559" y="382" width="26.6" height="12" fill="#ff0000"/>
</svg>
</body>
</html>
